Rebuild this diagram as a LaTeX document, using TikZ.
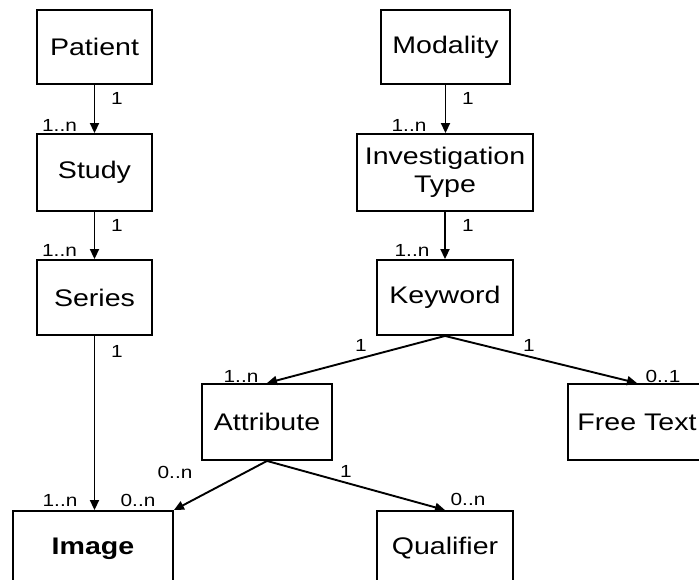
\documentclass[tikz,border=0pt]{standalone}
\usepackage{fontspec}
\setmainfont[FakeStretch=1.19]{Liberation Sans}
\usetikzlibrary{arrows.meta}
\begin{document}
\begin{tikzpicture}[x=1pt,y=-1pt,
  ent/.style={draw,line width=1.9pt,inner sep=0pt,align=center,font=\fontsize{24}{28}\selectfont},
  lab/.style={anchor=base,inner sep=0pt,font=\fontsize{17.5}{20}\selectfont},
  rel/.style={line width=1.9pt,-{Triangle[length=10pt,width=9pt]}}]
\useasboundingbox (0,0) rectangle (699,580);
% entities
\node[ent,minimum width=115pt,minimum height=74pt] (patient) at (94.5,47) {Patient};
\node[ent,minimum width=115pt,minimum height=77pt] (study) at (94.5,172.5) {Study};
\node[ent,minimum width=115pt,minimum height=75pt] (series) at (94.5,297.5) {Series};
\node[ent,minimum width=160pt,minimum height=75pt,font=\fontsize{24}{28}\selectfont\bfseries] (image) at (93,548.5) {Image};
\node[ent,minimum width=129pt,minimum height=74pt] (modality) at (445.5,47) {Modality};
\node[ent,minimum width=176pt,minimum height=77pt] (invtype) at (445,172.5) {Investigation\\Type};
\node[ent,minimum width=136pt,minimum height=75pt] (keyword) at (445,297.5) {Keyword};
\node[ent,minimum width=130pt,minimum height=76pt] (attribute) at (267,422) {Attribute};
\node[ent,minimum width=138pt,minimum height=76pt] (freetext) at (637,422) {Free Text};
\node[ent,minimum width=136pt,minimum height=75pt] (qualifier) at (445,548.5) {Qualifier};
% connectors
\draw[rel] (patient.south) -- (study.north);
\draw[rel] (study.south) -- (series.north);
\draw[rel] (series.south) -- (series.south |- image.north);
\draw[rel] (modality.south) -- (modality.south |- invtype.north);
\draw[rel] (invtype.south) -- (keyword.north);
\draw[rel] (keyword.south) -- (attribute.north);
\draw[rel] (keyword.south) -- (freetext.north);
\draw[rel] (attribute.south) -- (image.north east);
\draw[rel] (attribute.south) -- (qualifier.north);
% multiplicities
\node[lab] (l1) at (117,105) {1};
\node[lab] (l2) at (59.5,132) {1..n};
\node[lab] (l3) at (117,232) {1};
\node[lab] (l4) at (59.5,257) {1..n};
\node[lab] (l5) at (117,357) {1};
\node[lab] (l6) at (60,506) {1..n};
\node[lab] (l7) at (138,506) {0..n};
\node[lab] (l8) at (468,105) {1};
\node[lab] (l9) at (409,132) {1..n};
\node[lab] (l10) at (468,232) {1};
\node[lab] (l11) at (412,257) {1..n};
\node[lab] (l12) at (361,351) {1};
\node[lab] (l13) at (529,351) {1};
\node[lab] (l14) at (241,382) {1..n};
\node[lab] (l15) at (663,382) {0..1};
\node[lab] (l16) at (175,478) {0..n};
\node[lab] (l17) at (346,477) {1};
\node[lab] (l18) at (468,505) {0..n};
\end{tikzpicture}
\end{document}
